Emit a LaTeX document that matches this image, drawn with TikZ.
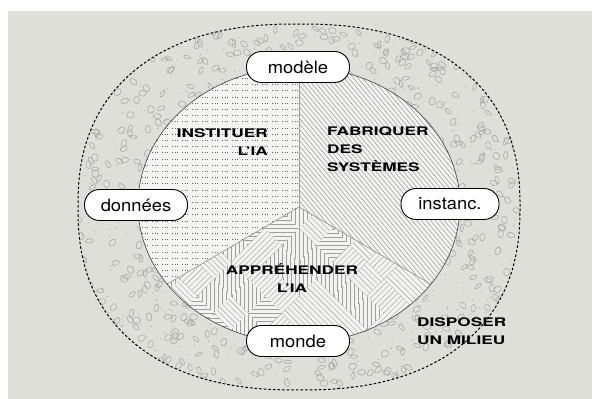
\documentclass[tikz,border=0pt]{standalone}
\usepackage{fontspec}
\setmainfont{TeX Gyre Heros}[FakeStretch=1.08]
\newfontfamily\capsfont{TeX Gyre Heros}[FakeStretch=1.46]
\usetikzlibrary{positioning,calc}
\definecolor{bggray}{RGB}{223,223,218}
\definecolor{paper}{RGB}{243,243,241}
\tikzset{
tag/.style={
  draw,
  line width=0.9pt,
  fill=white,
  rounded corners=15pt,
  minimum width=103pt,
  minimum height=31pt,
  inner sep=0pt,
  font=\fontsize{17}{20}\selectfont
  },
caps/.style={inner sep=0pt, font=\capsfont\bfseries\fontsize{11.8}{18}\selectfont},
pebble/.style={draw=black!36, line width=0.5pt}
}

\begin{document}
\begin{tikzpicture}[
    x=1pt, y=1pt,
    dotrow/.style={
      draw=black!60,
      line width=0.8pt,
      dash pattern=on 0.8pt off 1.8pt on 0.8pt off 1.8pt on 0.8pt off 4pt
      },
    hatch/.style={draw=black!45, line width=0.4pt},
    strokes/.style={draw=black!38, line width=0.4pt},
    divider/.style={draw=black!40, line width=0.7pt},
    rim/.style={draw=black!75, line width=0.6pt},
    fence/.style={draw, line width=1pt, dash pattern=on 2.6pt off 2pt}
 ]
\useasboundingbox (0,0) rectangle (592,399);
\fill[white] (0,0) rectangle (592,399);
\fill[bggray] (8,0) rectangle (592,388);

\coordinate (C) at (299,194);
\coordinate (P) at (299,192);
\coordinate (top) at ($(C)+(90:161 and 138)$);
\coordinate (rgt) at ($(C)+(-35:161 and 138)$);
\coordinate (lft) at ($(C)+(215:161 and 138)$);

% pebbles of the ring
\begin{scope}
\clip plot[domain=1:359, samples=90, variable=\t, smooth cycle]
  ({299+221*sign(cos(\t))*abs(cos(\t))^0.85}, {192+183*sign(sin(\t))*abs(sin(\t))^0.85});
\pgfmathsetseed{17}
\foreach \n in {1,...,820}{
  \pgfmathsetmacro\px{78+442*rnd}
  \pgfmathsetmacro\py{8+368*rnd}
  \pgfmathsetmacro\pa{180*rnd}
  \pgfmathsetmacro\pr{1.5+1.7*rnd}
  \draw[pebble, rotate around={\pa:(\px,\py)}] (\px,\py) ellipse [x radius=3.9, y radius=\pr];
}
\foreach \n in {1,...,650}{
  \pgfmathsetmacro\px{78+442*rnd}
  \pgfmathsetmacro\py{8+368*rnd}
  \fill[black!38] (\px,\py) circle (0.55);
}
\end{scope}

\fill[paper] (C) ellipse [x radius=161, y radius=138];

\begin{scope}
\clip (P) -- (top) arc[start angle=90, end angle=215, x radius=161, y radius=138] -- cycle;
\foreach \y in {54,60.2,...,336}
  \draw[dotrow] (132,\y) -- (305,\y);
\end{scope}

\begin{scope}
\clip (P) -- (rgt) arc[start angle=-35, end angle=90, x radius=161, y radius=138] -- cycle;
\foreach \k in {20,24.6,...,470}
  \draw[hatch] (\k,340) -- ++(250,-300);
\end{scope}

\begin{scope}
\clip (P) -- (lft) arc[start angle=215, end angle=325, x radius=161, y radius=138] -- cycle;
\pgfmathsetseed{5}
\begin{scope}[shift={(299,120)}, rotate=45]
\foreach \i in {-6,...,6}
{\foreach \j in {-6,...,6}
  {\pgfmathrandominteger\rot{0}{3}
   \begin{scope}[shift={(\i*24,\j*24)}]
   \clip (-12,-12) rectangle (12,12);
   \foreach \d in {-16,-12,...,16}
     \draw[strokes, rotate=\rot*45] (-18,\d) -- (18,\d);
   \end{scope}
  }
}
\end{scope}
\end{scope}

\draw[divider] (P) -- (top);
\draw[divider] (P) -- (rgt);
\draw[divider] (P) -- (lft);
\draw[rim] (C) ellipse [x radius=161, y radius=138];

\draw[fence] plot[domain=1:359, samples=90, variable=\t, smooth cycle]
  ({299+221*sign(cos(\t))*abs(cos(\t))^0.85}, {192+183*sign(sin(\t))*abs(sin(\t))^0.85});

\node[caps, align=right, anchor=north east] (inst) at (268,270) {INSTITUER\\L’IA};
\node[caps, align=left, anchor=north west] (fab) at (327,272) {FABRIQUER\\DES\\SYSTÈMES};
\node[caps, align=center, anchor=north] (appr) at (292,136) {APPRÉHENDER\\L’IA};
\node[caps, align=left, anchor=north west] (disp) at (417,81) {DISPOSER\\UN MILIEU};

\node[tag] (mod) at (298,332) {modèle};
\node[tag] (mon) at (298,58) {monde};
\node[tag] (don) at (136,194) {données};
\node[tag, minimum width=98pt] (ins) at (450,195) {instanc.};
\end{tikzpicture}
\end{document}
